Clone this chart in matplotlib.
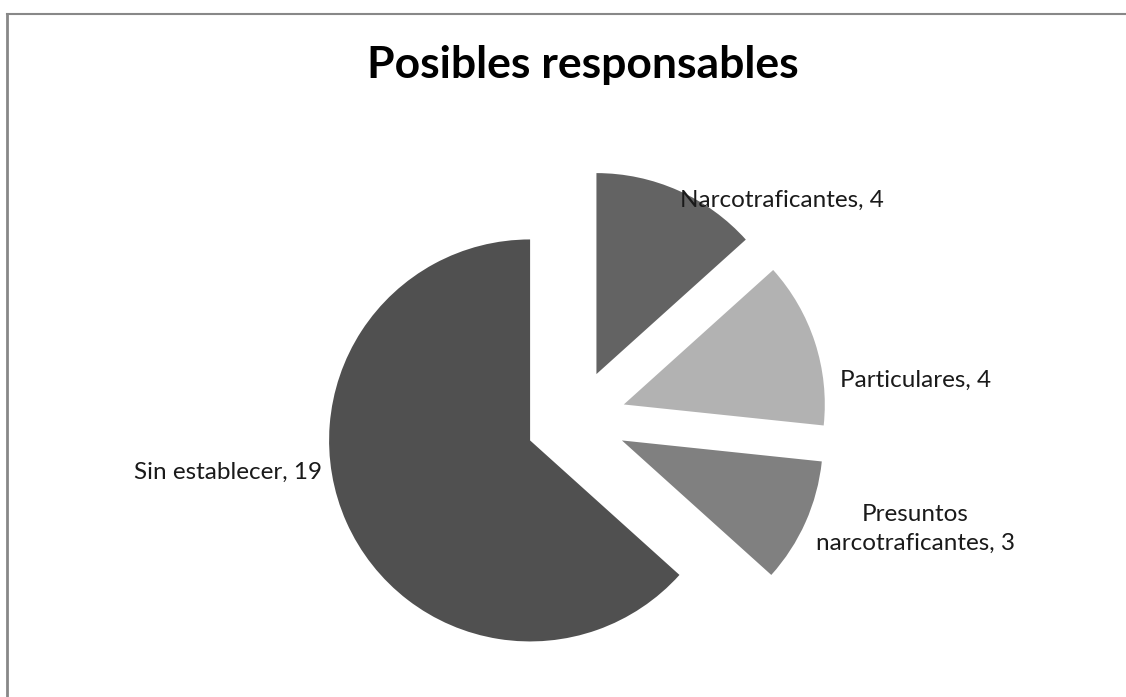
import matplotlib
matplotlib.use('Agg')
from matplotlib import pyplot as plt

# data
categories = ['Narcotraficantes', 'Particulares', 'Presuntos\nnarcotraficantes', 'Sin establecer']
values = [4, 4, 3, 19]
colors = ['#636363', '#b2b2b2', '#808080', '#505050']

W, H = 1126, 697


def main():
    """draw the exploded pie"""
    plt.rcParams['font.family'] = ['Lato', 'DejaVu Sans']

    fig = plt.figure(figsize=(W / 100, H / 100), dpi=100)
    ax = fig.add_axes([0, 0, 1, 1])

    # every slice pulled out by a quarter of the radius (explode is in data units)
    radius = 201
    ax.pie(values, colors=colors, startangle=90, counterclock=False,
           explode=[0.25 * radius] * len(values), center=(576, H - 420), radius=radius,
           wedgeprops={'linewidth': 0}, frame=True)
    ax.set_xlim(0, W)
    ax.set_ylim(0, H)
    ax.axis('off')

    # labels "name, value"
    label_pos = [(680, 200, 'left'), (840, 380, 'left'), (915, 529, 'center'), (322, 472, 'right')]
    for cat, val, (x, y, ha) in zip(categories, values, label_pos):
        ax.text(x, H - y, f'{cat}, {val}', ha=ha, va='center', fontsize=17.5,
                color='#1a1a1a', linespacing=1.5)

    ax.text(583, H - 65, 'Posibles responsables', ha='center', va='center',
            fontsize=32, fontweight='bold', color='black')

    # chart frame (only top and left edges visible)
    ax.plot([7, W], [H - 14, H - 14], color='#888888', lw=1.5, clip_on=False)
    ax.plot([7, 7], [0, H - 14], color='#888888', lw=2, clip_on=False)

    fig.savefig('out.png', dpi=100)


if __name__ == '__main__':
    main()
